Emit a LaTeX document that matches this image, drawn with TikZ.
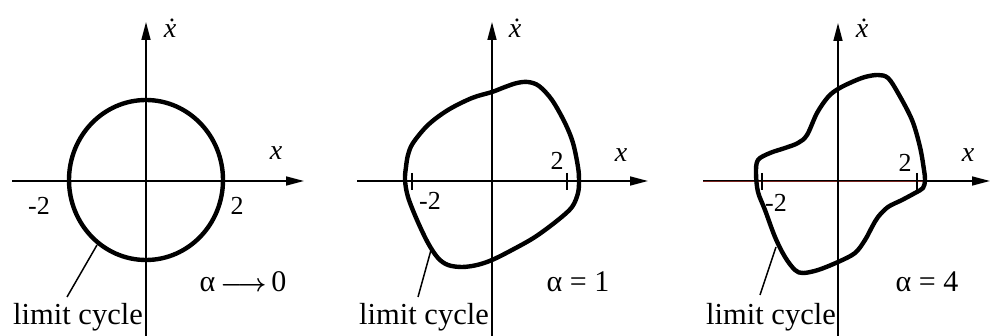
\documentclass[tikz,border=0pt]{standalone}
\usepackage{amsmath}
\usepackage{fontspec}
\setmainfont{Liberation Serif}
\usetikzlibrary{arrows.meta}
\definecolor{axred}{RGB}{120,35,30}
\tikzset{
  axis/.style={line width=1.6pt,-{Triangle[length=18pt,width=9pt]}},
  cyc/.style={line width=4.4pt,line join=round},
  tick/.style={line width=1.5pt},
  leader/.style={line width=1.5pt},
  axlbl/.style={anchor=base,inner sep=0pt,font=\fontsize{28}{32}\selectfont\itshape},
  numlbl/.style={anchor=base,inner sep=0pt,font=\fontsize{26}{30}\selectfont},
  alab/.style={anchor=base,inner sep=0pt,font=\fontsize{30}{34}\selectfont},
  lclab/.style={anchor=base,inner sep=0pt,font=\fontsize{30.5}{34}\selectfont},
}
\begin{document}
\begin{tikzpicture}[x=1pt,y=-1pt]
\fill[white] (0,0) rectangle (990,336);
\path[use as bounding box] (0,0) rectangle (990,336);

% ---------- Panel 1 ----------
\coordinate (a1l) at (12,181); \coordinate (a1r) at (304,181);
\coordinate (a1b) at (146,336); \coordinate (a1t) at (146,22);
\draw[axis] (a1l) -- (a1r);
\draw[axis] (a1b) -- (a1t);
\draw[cyc] (146,180) ellipse [x radius=77, y radius=80];
\node[axlbl] (x1) at (276,160) {x};
\node[axlbl] (xd1) at (170,38) {ẋ};
\node[numlbl] (m1) at (39,215) {-2};
\node[numlbl] (p1) at (237,215) {2};
\node[alab] (al1) at (243,292) {α\,{\fontsize{24}{28}\selectfont$\boldsymbol{\longrightarrow}$}\,0};
\node[lclab] (lc1) at (78,325) {limit cycle};
\coordinate (l1a) at (67,297); \coordinate (l1b) at (97,245);
\draw[leader] (l1a) -- (l1b);

% ---------- Panel 2 ----------
\coordinate (a2l) at (357,181); \coordinate (a2r) at (648,181);
\coordinate (a2b) at (492,336); \coordinate (a2t) at (492,22);
\draw[axis] (a2l) -- (a2r);
\draw[axis] (a2b) -- (a2t);
\coordinate (t2a) at (412,173); \coordinate (t2b) at (412,190);
\coordinate (t2c) at (567,173); \coordinate (t2d) at (567,190);
\draw[tick] (t2a) -- (t2b);
\draw[tick] (t2c) -- (t2d);
\draw[cyc] plot[smooth cycle,tension=0.55] coordinates {
(405,180) (408,197) (417,220) (428,243) (438,258) (448,265) (462,267)
(477,265) (492,260) (512,250) (535,237) (558,220) (572,207) (578,193)
(579,180) (578,167) (573,143) (565,123) (552,100) (539,86) (528,82)
(517,83) (505,87) (492,92) (472,98) (448,110) (428,125) (413,143)
(408,155) (406,167)};
\node[axlbl] (x2) at (621,162) {x};
\node[axlbl] (xd2) at (515,38) {ẋ};
\node[numlbl] (m2) at (430,210) {-2};
\node[numlbl] (p2) at (557,170) {2};
\node[alab] (al2) at (578,292) {α = 1};
\node[lclab] (lc2) at (424,325) {limit cycle};
\coordinate (l2a) at (418,297); \coordinate (l2b) at (431,250);
\draw[leader] (l2a) -- (l2b);

% ---------- Panel 3 ----------
\coordinate (a3l) at (703,181); \coordinate (a3m) at (925,181);
\coordinate (a3r) at (990,181);
\coordinate (a3b) at (838,336); \coordinate (a3t) at (838,23);
\draw[axis] (a3l) -- (a3r);
\draw[line width=0.9pt,axred] ([yshift=-0.3pt]a3l) -- ([yshift=-0.3pt]a3m);
\draw[axis] (a3b) -- (a3t);
\coordinate (t3a) at (762,173); \coordinate (t3b) at (762,190);
\coordinate (t3c) at (917,173); \coordinate (t3d) at (917,190);
\draw[tick] (t3a) -- (t3b);
\draw[tick] (t3c) -- (t3d);
\draw[cyc] plot[smooth cycle,tension=0.55] coordinates {
(756,173) (758,192) (765,210) (775,237) (785,257) (795,270) (803,273)
(818,270) (838,262) (855,253) (865,240) (872,227) (878,217) (888,207)
(902,200) (915,193) (923,188) (925,180) (924,170) (920,147) (912,120)
(898,93) (888,78) (878,75) (865,77) (852,82) (838,89) (828,97)
(817,113) (807,135) (798,143) (785,148) (770,153) (758,160)};
\node[axlbl] (x3) at (968,162) {x};
\node[axlbl] (xd3) at (862,38) {ẋ};
\node[numlbl] (m3) at (776,212) {-2};
\node[numlbl] (p3) at (905,172) {2};
\node[alab] (al3) at (927,292) {α = 4};
\node[lclab] (lc3) at (771,325) {limit cycle};
\coordinate (l3a) at (760,295); \coordinate (l3b) at (776,247);
\draw[leader] (l3a) -- (l3b);
\end{tikzpicture}
\end{document}
